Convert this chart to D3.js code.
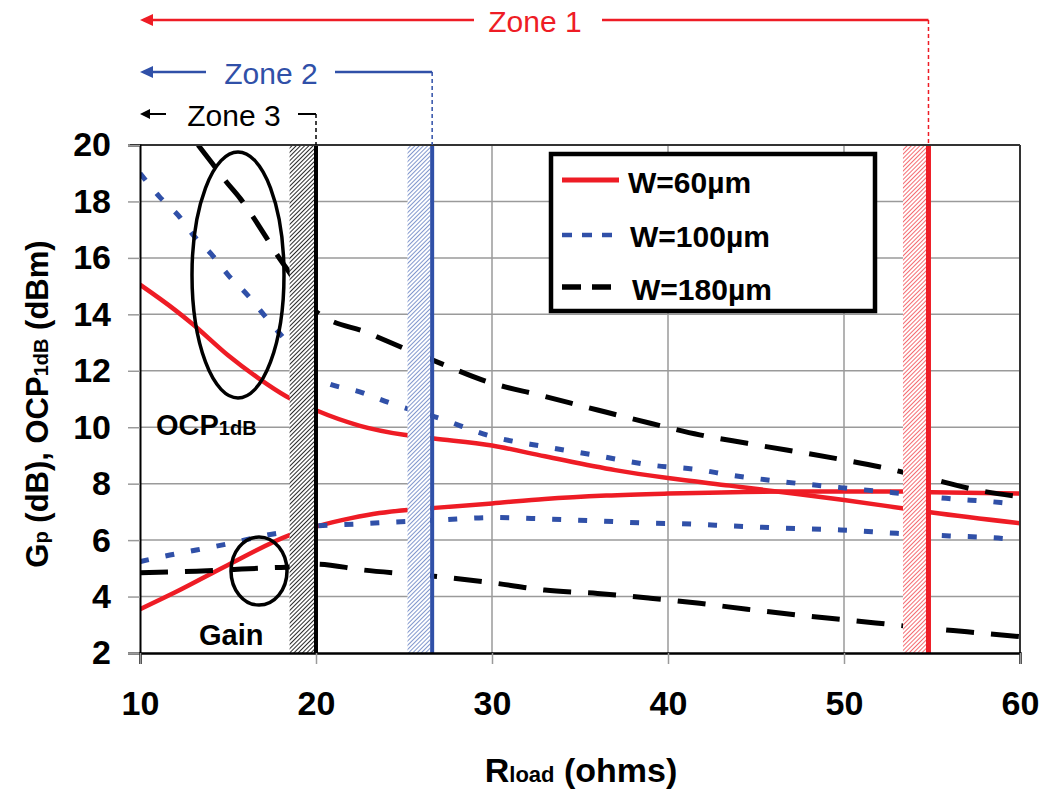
<!DOCTYPE html>
<html><head><meta charset="utf-8">
<script src="https://cdn.jsdelivr.net/npm/d3@7"></script>
<style>
html,body{margin:0;padding:0;background:#fff;}
svg text{font-family:"Liberation Sans",Arial,sans-serif;}
</style></head>
<body><svg id="chart" width="1042" height="789"></svg>
<script>
// ---------- data ----------
const xTicks = [10, 20, 30, 40, 50, 60];
const yTicks = [2, 4, 6, 8, 10, 12, 14, 16, 18, 20];
const seriesNames = ["W=60µm", "W=100µm", "W=180µm"];

const w60OcpR = [10, 12, 13, 15, 16.7, 18.3, 20, 22.5, 25, 26.7, 30, 33, 37, 40, 43.5, 47, 50, 53.3, 55, 60];
const w60OcpV = [15.05, 14.15, 13.65, 12.55, 11.75, 11.1, 10.6, 10.05, 9.73, 9.6, 9.35, 8.97, 8.48, 8.2, 7.93, 7.66, 7.42, 7.13, 6.98, 6.6];
const w60GainR = [10, 12, 15, 18.5, 20, 22, 23.6, 25.2, 26.7, 30, 33, 36.5, 40, 46.5, 50, 53.3, 55, 60];
const w60GainV = [3.55, 4.15, 5.12, 6.18, 6.48, 6.78, 6.96, 7.07, 7.14, 7.3, 7.46, 7.58, 7.65, 7.72, 7.72, 7.72, 7.7, 7.65];

const w100OcpR = [10, 11.1, 12.2, 13.1, 14.1, 15, 16.1, 17.1, 18.1, 20, 22.7, 24.2, 27, 30, 33, 36, 39, 41.8, 43.5, 46.5, 49.8, 52.8, 55.8, 58.9, 60];
const w100OcpV = [19.0, 18.17, 17.49, 16.75, 16.1, 15.4, 14.69, 13.94, 13.2, 11.77, 11.21, 10.86, 10.32, 9.67, 9.31, 8.99, 8.66, 8.49, 8.31, 8.07, 7.86, 7.68, 7.48, 7.33, 7.25];
const w100GainR = [10, 11.7, 13.2, 14.7, 17.8, 18.5, 20, 22.3, 23.8, 27, 30, 33, 36, 39, 40.7, 43.7, 46.7, 49.8, 53, 56, 59, 60];
const w100GainV = [5.24, 5.47, 5.65, 5.83, 6.24, 6.3, 6.5, 6.57, 6.62, 6.71, 6.8, 6.75, 6.68, 6.6, 6.58, 6.5, 6.42, 6.36, 6.24, 6.15, 6.06, 6.0];

const w180OcpR = [13.3, 14.1, 14.9, 15.7, 16.35, 17.2, 17.8, 18.5, 20, 23, 25.2, 26.7, 30, 32.7, 36, 39, 41.8, 44.5, 50, 52, 55.2, 57.5, 60];
const w180OcpV = [20.0, 19.35, 18.7, 18.1, 17.52, 16.7, 16.1, 15.47, 14.1, 13.33, 12.74, 12.36, 11.56, 11.14, 10.61, 10.14, 9.73, 9.43, 8.84, 8.6, 8.13, 7.78, 7.54];
const w180GainR = [10, 13.2, 17.4, 18.5, 20, 22.7, 25.2, 27, 30, 33, 36, 39, 41.8, 44.5, 47.3, 50.2, 53.9, 57, 60];
const w180GainV = [4.84, 4.9, 5.02, 5.05, 5.15, 4.94, 4.8, 4.7, 4.49, 4.23, 4.11, 3.94, 3.76, 3.55, 3.35, 3.17, 2.93, 2.75, 2.58];

const zoneNames = ["Zone 1", "Zone 2", "Zone 3"];
const zoneEdges = [54.8, 26.6, 20];
const zoneBandStarts = [53.35, 25.2, 18.5];

// ---------- layout ----------
const svg = d3.select("#chart");
const L = 140, R = 1020, T = 145, B = 653;
const x = d3.scaleLinear().domain([10, 60]).range([L, R]);
const y = d3.scaleLinear().domain([2, 20]).range([B, T]);
const RED = "#ee1c25", BLUE = "#3050a8", BLACK = "#000";
const zoneColors = [RED, BLUE, BLACK];
const zoneY = [20, 72, 114];

const defs = svg.append("defs");
defs.append("clipPath").attr("id", "plotclip").append("rect")
  .attr("x", L).attr("y", T).attr("width", R - L).attr("height", B - T);
function hatch(id, color, w) {
  const p = defs.append("pattern").attr("id", id).attr("patternUnits", "userSpaceOnUse")
    .attr("width", 3).attr("height", 3).attr("patternTransform", "rotate(45)");
  p.append("rect").attr("width", 3).attr("height", 3).attr("fill", "#fff");
  p.append("line").attr("x1", 0).attr("y1", 0).attr("x2", 0).attr("y2", 3)
    .attr("stroke", color).attr("stroke-width", w);
}
hatch("hRed", RED, 1.3);
hatch("hBlue", "#4a6ab8", 1.4);
hatch("hBlack", "#111", 1.8);
const hatchIds = ["hRed", "hBlue", "hBlack"];

// grid
svg.append("g").selectAll("line").data(yTicks.slice(1)).join("line")
  .attr("x1", L).attr("x2", R).attr("y1", d => y(d)).attr("y2", d => y(d))
  .attr("stroke", "#9a9a9a").attr("stroke-width", 1.5);
svg.append("g").selectAll("line").data(xTicks.slice(1, -1)).join("line")
  .attr("y1", T).attr("y2", B).attr("x1", d => x(d)).attr("x2", d => x(d))
  .attr("stroke", "#9a9a9a").attr("stroke-width", 1.5);

// curves
const line = d3.line().x(d => x(d[0])).y(d => y(d[1])).curve(d3.curveMonotoneX);
const zip = (a, b) => a.map((v, i) => [v, b[i]]);
const curves = [
  { d: zip(w60OcpR, w60OcpV), c: RED, w: 4.5, dash: null },
  { d: zip(w60GainR, w60GainV), c: RED, w: 4.5, dash: null },
  { d: zip(w100OcpR, w100OcpV), c: BLUE, w: 5, dash: "9,17" },
  { d: zip(w100GainR, w100GainV), c: BLUE, w: 5, dash: "9,17" },
  { d: zip(w180OcpR, w180OcpV), c: BLACK, w: 5, dash: "28,17" },
  { d: zip(w180GainR, w180GainV), c: BLACK, w: 5, dash: "28,17" }
];
const cg = svg.append("g").attr("clip-path", "url(#plotclip)");
cg.selectAll("path").data(curves).join("path")
  .attr("d", d => line(d.d)).attr("fill", "none")
  .attr("stroke", d => d.c).attr("stroke-width", d => d.w)
  .attr("stroke-dasharray", d => d.dash);

// hatched bands + boundary lines
zoneEdges.forEach((e, i) => {
  svg.append("rect").attr("x", x(zoneBandStarts[i])).attr("y", T)
    .attr("width", x(e) - 2 - x(zoneBandStarts[i])).attr("height", B - T)
    .attr("fill", "url(#" + hatchIds[i] + ")");
  svg.append("line").attr("x1", x(e)).attr("x2", x(e)).attr("y1", T).attr("y2", B)
    .attr("stroke", zoneColors[i]).attr("stroke-width", i === 0 ? 5 : 4);
});

// ellipses & annotations
svg.append("ellipse").attr("cx", 238).attr("cy", 275).attr("rx", 46).attr("ry", 123)
  .attr("fill", "none").attr("stroke", "#000").attr("stroke-width", 3.5);
svg.append("ellipse").attr("cx", 259).attr("cy", 571).attr("rx", 28).attr("ry", 34)
  .attr("fill", "none").attr("stroke", "#000").attr("stroke-width", 3.5);
const ocp = svg.append("text").attr("x", 156).attr("y", 435).attr("font-size", 29).attr("font-weight", "bold");
ocp.append("tspan").text("OCP");
ocp.append("tspan").attr("font-size", 20).text("1dB");
svg.append("text").attr("x", 199).attr("y", 645).attr("font-size", 29).attr("font-weight", "bold").text("Gain");

// plot frame
svg.append("line").attr("x1", L - 10).attr("x2", R).attr("y1", T).attr("y2", T).attr("stroke", "#333").attr("stroke-width", 2);
svg.append("line").attr("x1", R).attr("x2", R).attr("y1", T).attr("y2", B).attr("stroke", "#333").attr("stroke-width", 2);

// axes
const yAxis = svg.append("g").attr("transform", `translate(${L},0)`)
  .call(d3.axisLeft(y).tickValues(yTicks).tickSize(12).tickPadding(17));
yAxis.select(".domain").attr("stroke", "#000").attr("stroke-width", 2);
yAxis.selectAll(".tick line").attr("stroke", "#9a9a9a").attr("stroke-width", 1.5);
yAxis.selectAll(".tick text").attr("font-size", 34).attr("font-weight", "bold")
  .attr("font-family", "Liberation Sans, Arial, sans-serif").attr("fill", "#000");

const xAxis = svg.append("g").attr("transform", `translate(0,${B})`)
  .call(d3.axisBottom(x).tickValues(xTicks).tickSize(11).tickPadding(27));
xAxis.select(".domain").attr("stroke", "#000").attr("stroke-width", 2.5);
xAxis.selectAll(".tick line").attr("stroke", "#9a9a9a").attr("stroke-width", 1.5);
xAxis.selectAll(".tick text").attr("font-size", 34).attr("font-weight", "bold")
  .attr("font-family", "Liberation Sans, Arial, sans-serif").attr("fill", "#000");

// axis titles
const xt = svg.append("text").attr("x", 581).attr("y", 782).attr("text-anchor", "middle")
  .attr("font-size", 34).attr("font-weight", "bold");
xt.append("tspan").text("R");
xt.append("tspan").attr("font-size", 22).text("load");
xt.append("tspan").text(" (ohms)");

const yt = svg.append("text").attr("transform", "translate(48,404) rotate(-90)")
  .attr("text-anchor", "middle").attr("font-size", 31).attr("font-weight", "bold");
yt.append("tspan").text("G");
yt.append("tspan").attr("font-size", 20).text("p");
yt.append("tspan").text(" (dB), OCP");
yt.append("tspan").attr("font-size", 20).text("1dB");
yt.append("tspan").text(" (dBm)");

// legend
const lg = svg.append("g");
lg.append("rect").attr("x", 551).attr("y", 154).attr("width", 324).attr("height", 157)
  .attr("fill", "#fff").attr("stroke", "#000").attr("stroke-width", 4.5);
const legRows = [
  { c: RED, w: 5, dash: null, ly: 180, ty: 193, tx: 628 },
  { c: BLUE, w: 4.5, dash: "10,10", ly: 235, ty: 247, tx: 630 },
  { c: BLACK, w: 5.5, dash: "19,11", ly: 287, ty: 300, tx: 632 }
];
legRows.forEach((r, i) => {
  lg.append("line").attr("x1", 562).attr("x2", 619).attr("y1", r.ly).attr("y2", r.ly)
    .attr("stroke", r.c).attr("stroke-width", r.w).attr("stroke-dasharray", r.dash);
  lg.append("text").attr("x", r.tx).attr("y", r.ty).attr("font-size", 30)
    .attr("font-weight", "bold").text(seriesNames[i]);
});

// zone annotations
const zoneText = [
  { cx: 535, x1b: 474, x2a: 602 },
  { cx: 271, x1b: 206, x2a: 335 },
  { cx: 234, x1b: 166, x2a: 298 }
];
zoneEdges.forEach((e, i) => {
  const zy = zoneY[i], c = zoneColors[i], zt = zoneText[i];
  const g = svg.append("g");
  const lw = i === 2 ? 2 : 2.5;
  g.append("line").attr("x1", L + 10).attr("x2", zt.x1b).attr("y1", zy).attr("y2", zy)
    .attr("stroke", c).attr("stroke-width", lw);
  g.append("line").attr("x1", zt.x2a).attr("x2", x(e)).attr("y1", zy).attr("y2", zy)
    .attr("stroke", c).attr("stroke-width", lw);
  const ah = i === 2 ? 5 : 6, al = i === 2 ? 10 : 13;
  g.append("path").attr("d", `M${L},${zy} L${L + al},${zy - ah} L${L + al},${zy + ah} Z`).attr("fill", c);
  g.append("line").attr("x1", x(e)).attr("x2", x(e)).attr("y1", zy).attr("y2", T)
    .attr("stroke", c).attr("stroke-width", 1.5).attr("stroke-dasharray", "4,3");
  g.append("text").attr("x", zt.cx).attr("y", zy + 12).attr("text-anchor", "middle")
    .attr("font-size", 30).attr("fill", c).text(zoneNames[i]);
});
</script></body></html>
